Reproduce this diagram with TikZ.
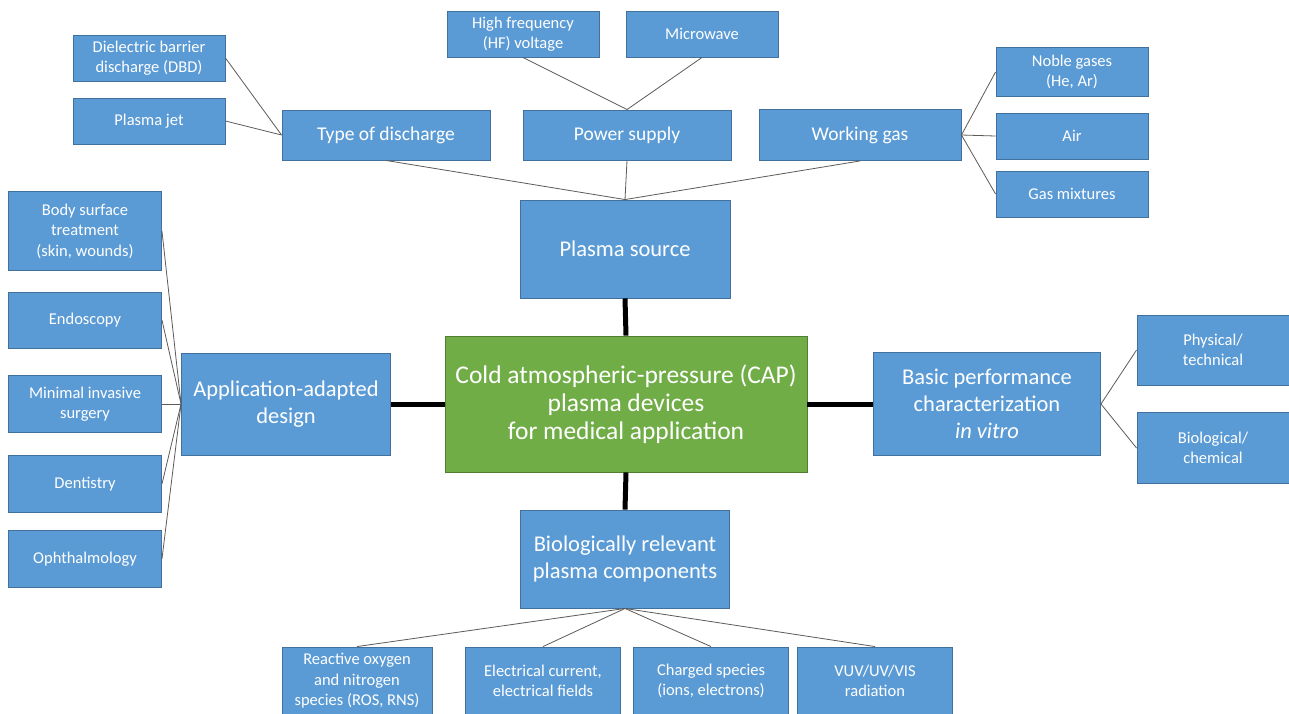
\documentclass[tikz,border=0pt]{standalone}
\usepackage{fontspec}
\setmainfont{Carlito}
\definecolor{boxblue}{HTML}{5B9BD5}
\definecolor{boxedge}{HTML}{41719C}
\definecolor{capgreen}{HTML}{70AD47}
\definecolor{capedge}{HTML}{507E32}
\definecolor{linkgray}{HTML}{5E5A55}
\tikzset{
  box/.style={rectangle,draw=boxedge,fill=boxblue,line width=0.9pt,text=white,
    align=center,inner sep=0pt},
  leaf/.style={box,font=\fontsize{16.5}{20.5}\selectfont},
  mid/.style={box,font=\fontsize{19.5}{23}\selectfont},
  hub/.style={box,font=\fontsize{22.5}{27}\selectfont},
  core/.style={box,draw=capedge,fill=capgreen,font=\fontsize{25.5}{28}\selectfont},
  link/.style={draw=linkgray,line width=0.8pt},
  trunk/.style={draw=black,line width=5pt}
}

\begin{document}
\begin{tikzpicture}[x=1pt,y=-1pt]
\useasboundingbox[fill=white] (0,0) rectangle (1289,713);
% centre
\node[core,minimum width=362,minimum height=136] (cap) at (626,404) {Cold atmospheric-pressure (CAP)\\plasma devices\\for medical application};
% four main branches
\node[hub,minimum width=210,minimum height=98] (source) at (625,249) {Plasma source};
\node[hub,minimum width=209,minimum height=102] (app) at (286,404) {Application-adapted\\design};
\node[hub,minimum width=227,minimum height=103] (perf) at (987,404) {Basic performance\\characterization\\\textit{in vitro}};
\node[hub,minimum width=209,minimum height=98] (comp) at (625,559) {Biologically relevant\\plasma components};
% plasma source
\node[mid,minimum width=208,minimum height=50] (type) at (386,135) {Type of discharge};
\node[mid,minimum width=208,minimum height=50] (power) at (627,135) {Power supply};
\node[mid,minimum width=202,minimum height=51] (gas) at (860,135) {Working gas};
\node[leaf,minimum width=152,minimum height=46] (dbd) at (149,58) {Dielectric barrier\\discharge (DBD)};
\node[leaf,minimum width=152,minimum height=46] (jet) at (149,121) {Plasma jet};
\node[leaf,minimum width=152,minimum height=46] (hf) at (523,34) {High frequency\\(HF) voltage};
\node[leaf,minimum width=152,minimum height=46] (micro) at (702,34) {Microwave};
\node[leaf,minimum width=152,minimum height=49] (noble) at (1072,72) {Noble gases\\(He, Ar)};
\node[leaf,minimum width=152,minimum height=46] (air) at (1072,136) {Air};
\node[leaf,minimum width=152,minimum height=46] (mix) at (1072,194) {Gas mixtures};
% applications
\node[leaf,minimum width=153,minimum height=79] (body) at (85,231) {Body surface\\treatment\\(skin, wounds)};
\node[leaf,minimum width=153,minimum height=56] (endo) at (85,320) {Endoscopy};
\node[leaf,minimum width=153,minimum height=57] (mis) at (85,404) {Minimal invasive\\surgery};
\node[leaf,minimum width=153,minimum height=57] (dent) at (85,484) {Dentistry};
\node[leaf,minimum width=153,minimum height=57] (oph) at (85,559) {Ophthalmology};
% characterization
\node[leaf,minimum width=152,minimum height=70] (phys) at (1213,350) {Physical/\\technical};
\node[leaf,minimum width=152,minimum height=71] (bio) at (1213,448) {Biological/\\chemical};
% components
\node[leaf,minimum width=150,minimum height=68] (ros) at (357,681) {Reactive oxygen\\and nitrogen\\species (ROS, RNS)};
\node[leaf,minimum width=155,minimum height=68] (cur) at (543,681) {Electrical current,\\electrical fields};
\node[leaf,minimum width=155,minimum height=68] (chg) at (711,681) {Charged species\\(ions, electrons)};
\node[leaf,minimum width=155,minimum height=68] (vuv) at (875,681) {VUV/UV/VIS\\radiation};

% thick links to the centre
\draw[trunk] (source.south) -- (cap.north);
\draw[trunk] (cap.west) -- (app.east);
\draw[trunk] (cap.east) -- (perf.west);
\draw[trunk] (cap.south) -- (comp.north);
% thin links
\foreach \n in {dbd,jet} \draw[link] (\n.east) -- (type.west);
\foreach \n in {hf,micro} \draw[link] (\n.south) -- (power.north);
\foreach \n in {type,power,gas} \draw[link] (\n.south) -- (source.north);
\foreach \n in {noble,air,mix} \draw[link] (gas.east) -- (\n.west);
\foreach \n in {body,endo,mis,dent,oph} \draw[link] (\n.east) -- (app.west);
\foreach \n in {phys,bio} \draw[link] (perf.east) -- (\n.west);
\foreach \n in {ros,cur,chg,vuv} \draw[link] (comp.south) -- (\n.north);
\end{tikzpicture}
\end{document}
